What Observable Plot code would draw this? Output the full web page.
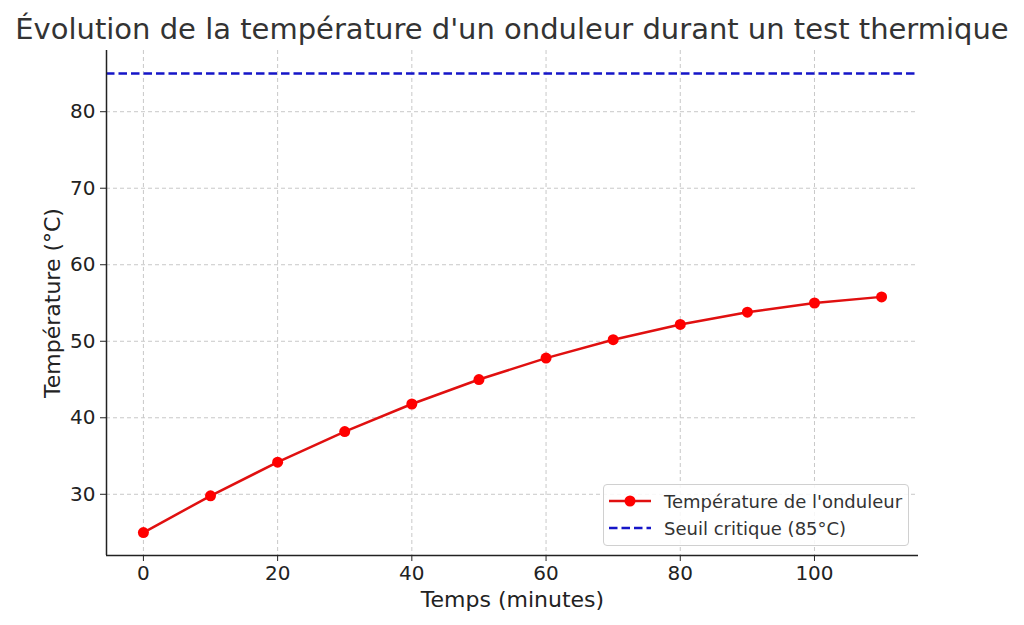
<!DOCTYPE html>
<html><head><meta charset="utf-8">
<script src="https://cdn.jsdelivr.net/npm/d3@7"></script>
<script src="https://cdn.jsdelivr.net/npm/@observablehq/plot@0.6"></script>
<style>
body{margin:0;background:#fff;font-family:"DejaVu Sans",sans-serif;}
#wrap{position:relative;width:1024px;height:625px;overflow:hidden;}
#title{height:50px;line-height:58px;text-align:center;font-size:29px;color:#333;white-space:nowrap;}
#legend{position:absolute;left:603px;top:484px;width:306px;height:62px;border:1px solid #d0d0d0;border-radius:4px;background:rgba(255,255,255,0.85);font-size:18px;color:#333;box-sizing:border-box;}
.row{position:absolute;left:0;height:26px;display:flex;align-items:center;}
.sw{position:relative;width:42px;height:26px;margin-left:5px;margin-right:13px;}
</style></head>
<body><div id="wrap">
<div id="title">Évolution de la température d'un onduleur durant un test thermique</div>
<div id="chart"></div>
<div id="legend">
 <div class="row" style="top:3px"><div class="sw"><svg width="42" height="26"><line x1="0" y1="13" x2="42" y2="13" stroke="#e01010" stroke-width="2.5"/><circle cx="21" cy="13" r="5.5" fill="#f00"/></svg></div><span>Température de l'onduleur</span></div>
 <div class="row" style="top:30px"><div class="sw"><svg width="42" height="26"><line x1="0" y1="13" x2="42" y2="13" stroke="#1515c8" stroke-width="2.5" stroke-dasharray="8.5,4"/></svg></div><span>Seuil critique (85°C)</span></div>
</div>
</div>
<script>
const temps = [0,10,20,30,40,50,60,70,80,90,100,110];
const temperature = [25,29.8,34.2,38.2,41.8,45,47.8,50.2,52.2,53.8,55,55.8];
const seuil = 85;
const xTicks = [0,20,40,60,80,100];
const yTicks = [30,40,50,60,70,80];
const data = temps.map((t,i)=>({t, v: temperature[i]}));

const chart = Plot.plot({
  width:1024, height:575,
  marginTop:0, marginBottom:70, marginLeft:106, marginRight:106,
  style:{fontFamily:"DejaVu Sans", fontSize:"22px", color:"#222", background:"transparent"},
  x:{domain:[-5.5,115.5]},
  y:{domain:[22,88]},
  marks:[
    Plot.gridX(xTicks,{stroke:"#c8c8c8", strokeOpacity:1, strokeDasharray:"4,3"}),
    Plot.gridY(yTicks,{stroke:"#c8c8c8", strokeOpacity:1, strokeDasharray:"4,3"}),
    Plot.ruleY([seuil],{stroke:"#1515c8", strokeWidth:2.5, strokeDasharray:"8.5,4"}),
    Plot.line(data,{x:"t", y:"v", stroke:"#e01010", strokeWidth:2.5}),
    Plot.dot(data,{x:"t", y:"v", r:5.5, fill:"#f00", stroke:"none"}),
    Plot.ruleX([-5.5],{stroke:"#222", strokeWidth:1.5}),
    Plot.ruleY([22],{stroke:"#222", strokeWidth:1.5}),
    Plot.axisX(xTicks,{tickSize:6, tickPadding:4, fontSize:20, label:null}),
    Plot.axisY(yTicks,{tickSize:6, tickPadding:5, fontSize:20, label:null}),
    Plot.axisX({label:"Temps (minutes)", ticks:[], tickSize:0, labelAnchor:"center", labelArrow:"none", labelOffset:51, fontSize:22}),
    Plot.axisY({label:"Température (°C)", ticks:[], tickSize:0, labelAnchor:"center", labelArrow:"none", labelOffset:62, fontSize:22})
  ]
});
document.getElementById("chart").appendChild(chart);
</script>
</body></html>
